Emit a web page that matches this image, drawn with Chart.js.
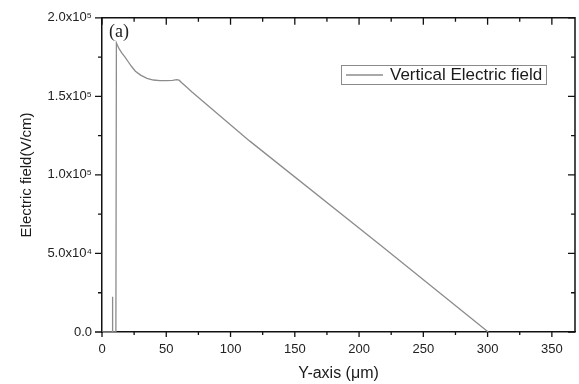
<!DOCTYPE html>
<html>
<head>
<meta charset="utf-8">
<script src="https://cdn.jsdelivr.net/npm/chart.js@4.4.0/dist/chart.umd.min.js"></script>
<style>
  html, body { margin: 0; padding: 0; background: #ffffff; }
  #wrap { width: 579px; height: 384px; position: relative; }
</style>
</head>
<body>
<div id="wrap"><canvas id="c" width="579" height="384"></canvas></div>
<script>
// ---- data ----
const positions = [0, 8.1, 8.2, 8.3, 10.8, 11.2, 12, 13.5, 15.5, 17.5, 20, 23, 26, 30, 35, 40, 45, 50, 55, 58, 60, 62, 66, 70, 115, 217, 300.5];
const fieldValues = [0, 0, 22500, 0, 0, 184000, 182500, 180000, 177500, 175500, 172500, 169000, 166000, 163500, 161500, 160400, 160000, 160000, 160200, 160600, 160300, 158700, 155800, 152800, 121500, 55000, 0];
const seriesName = 'Vertical Electric field';
const xTickValues = [0, 50, 100, 150, 200, 250, 300, 350];
const yTickLabels = ['0.0', '5.0x10\u2074', '1.0x10\u2075', '1.5x10\u2075', '2.0x10\u2075'];
const panelLabel = '(a)';
const xTitle = 'Y-axis (\u03BCm)';
const yTitle = 'Electric field(V/cm)';

const points = positions.map((x, i) => ({ x: x, y: fieldValues[i] }));

const frameTicks = {
  id: 'frameTicks',
  afterDraw(chart) {
    const ctx = chart.ctx;
    const xs = chart.scales.x, ys = chart.scales.y;
    const a = chart.chartArea;
    ctx.save();
    ctx.strokeStyle = '#111';
    ctx.lineWidth = 1.5;
    // top and right frame
    ctx.beginPath();
    ctx.moveTo(a.left, a.top); ctx.lineTo(a.right, a.top); ctx.lineTo(a.right, a.bottom);
    ctx.stroke();
    ctx.lineWidth = 1.3;
    ctx.beginPath();
    for (let v = 0; v <= xs.max; v += 25) {
      const px = xs.getPixelForValue(v);
      const major = v % 50 === 0;
      const lb = major ? 5 : 3, lt = major ? 7 : 4;
      ctx.moveTo(px, a.bottom); ctx.lineTo(px, a.bottom + lb);
      ctx.moveTo(px, a.top); ctx.lineTo(px, a.top + lt);
    }
    for (let v = 0; v <= ys.max; v += 25000) {
      const py = ys.getPixelForValue(v);
      const major = v % 50000 === 0;
      const ll = major ? 7 : 4, lr = major ? 7 : 4;
      ctx.moveTo(a.left, py); ctx.lineTo(a.left - ll, py);
      ctx.moveTo(a.right, py); ctx.lineTo(a.right - lr, py);
    }
    ctx.stroke();
    // panel label
    ctx.fillStyle = '#222';
    ctx.font = '18px "Liberation Serif"';
    ctx.textBaseline = 'middle';
    ctx.textAlign = 'left';
    ctx.fillText(panelLabel, a.left + 7, a.top + 14);
    // legend
    const ds = chart.data.datasets[0];
    const bx = 341, by = 65, bw = 205, bh = 19;
    ctx.strokeStyle = '#8a8a8a';
    ctx.lineWidth = 1;
    ctx.strokeRect(bx + 0.5, by + 0.5, bw, bh);
    ctx.strokeStyle = ds.borderColor;
    ctx.lineWidth = ds.borderWidth;
    ctx.beginPath();
    ctx.moveTo(bx + 5, by + 10); ctx.lineTo(bx + 42, by + 10);
    ctx.stroke();
    ctx.fillStyle = '#1a1a1a';
    ctx.font = '17px "Liberation Sans"';
    ctx.fillText(ds.label, bx + 49, by + 10.5);
    ctx.restore();
  }
};

new Chart(document.getElementById('c'), {
  type: 'scatter',
  data: {
    datasets: [{
      label: seriesName,
      data: points,
      showLine: true,
      borderColor: '#8c8c8c',
      backgroundColor: '#8c8c8c',
      borderWidth: 1.3,
      pointRadius: 0,
      tension: 0
    }]
  },
  options: {
    responsive: false,
    animation: false,
    devicePixelRatio: 1,
    layout: { padding: { left: 0, right: 4, top: 16, bottom: 0 } },
    plugins: { legend: { display: false }, tooltip: { enabled: false } },
    scales: {
      x: {
        type: 'linear',
        min: 0, max: 368,
        afterFit: s => { s.height = 52; },
        afterBuildTicks: s => { s.ticks = xTickValues.map(v => ({ value: v })); },
        ticks: { font: { family: 'Liberation Sans', size: 13 }, color: '#222', padding: 10, maxRotation: 0 },
        grid: { display: true, drawOnChartArea: false, drawTicks: false, color: 'rgba(0,0,0,0)' },
        border: { display: true, color: '#111', width: 1.5 },
        title: { display: true, text: xTitle, font: { family: 'Liberation Sans', size: 16 }, color: '#1a1a1a', padding: { top: 0, bottom: 1 } }
      },
      y: {
        type: 'linear',
        min: 0, max: 200000,
        afterFit: s => { s.width = 102; },
        ticks: { stepSize: 50000, font: { family: 'Liberation Sans', size: 13 }, color: '#222', padding: 10,
                 callback: (v, i) => yTickLabels[i] },
        grid: { display: true, drawOnChartArea: false, drawTicks: false, color: 'rgba(0,0,0,0)' },
        border: { display: true, color: '#111', width: 1.5 },
        title: { display: true, text: yTitle, font: { family: 'Liberation Sans', size: 15 }, color: '#1a1a1a', padding: { top: 18, bottom: 0 } }
      }
    }
  },
  plugins: [frameTicks]
});
</script>
</body>
</html>
